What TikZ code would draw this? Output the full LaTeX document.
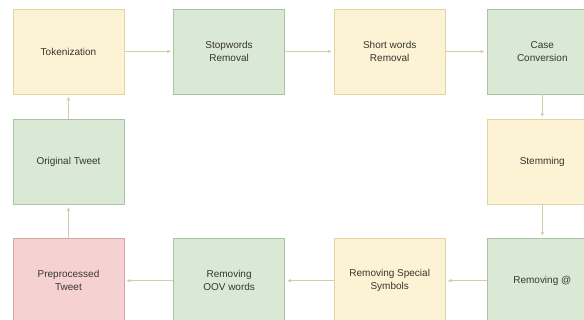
\documentclass[tikz,border=0pt]{standalone}
\usepackage{fontspec}
\setmainfont{Liberation Sans}
\usepackage{xcolor}
\usetikzlibrary{arrows, positioning, arrows.meta}

\definecolor{yfill}{HTML}{FCF2D4}
\definecolor{ydraw}{HTML}{E2D3A6}
\definecolor{gfill}{HTML}{D9E9D6}
\definecolor{gdraw}{HTML}{A9C4A3}
\definecolor{rfill}{HTML}{F5D2D1}
\definecolor{rdraw}{HTML}{D4A7A5}
\definecolor{linecol}{HTML}{D3CCAE}
\definecolor{txt}{HTML}{36362F}

\begin{document}
\begin{tikzpicture}[
    x=1pt, y=1pt,
    node distance=25pt and 49pt,
    box/.style={rectangle, draw, line width=0.6pt, minimum width=111pt, minimum height=85pt, align=center, text=txt, font=\fontsize{10}{13}\selectfont},
    ybox/.style={box, fill=yfill, draw=ydraw},
    gbox/.style={box, fill=gfill, draw=gdraw},
    rbox/.style={box, fill=rfill, draw=rdraw},
    line/.style={draw=linecol, line width=0.8pt, -{Latex[length=4pt,width=3.5pt]}, shorten >=2pt}
]
\useasboundingbox[fill=white] (0,0) rectangle (584,-320);

% Top row
\node[ybox] (token) at (68.5,-51.5) {Tokenization};
\node[gbox, right=of token] (stopwords) {Stopwords\\Removal};
\node[ybox, right=of stopwords] (short) {Short words\\Removal};
\node[gbox, right=of short, xshift=-8pt] (case) {Case\\Conversion};

% Middle row
\node[gbox, below=of token] (original) {Original Tweet};
\node[ybox, below=of case] (stemming) {Stemming};

% Bottom row
\node[gbox, below=33pt of stemming] (at) {Removing @};
\node[ybox, left=of at, xshift=8pt] (special) {Removing Special\\Symbols};
\node[gbox, left=of special] (oov) {Removing\\OOV words};
\node[rbox, left=of oov] (prep) {Preprocessed\\Tweet};

% Connexions
\path[line] (token) -- (stopwords);
\path[line] (stopwords) -- (short);
\path[line] (short) -- (case);
\path[line] (case) -- (stemming);
\path[line] (stemming) -- (at);
\path[line] (at) -- (special);
\path[line] (special) -- (oov);
\path[line] (oov) -- (prep);
\path[line] (prep) -- (original);
\path[line] (original) -- (token);

\end{tikzpicture}
\end{document}
